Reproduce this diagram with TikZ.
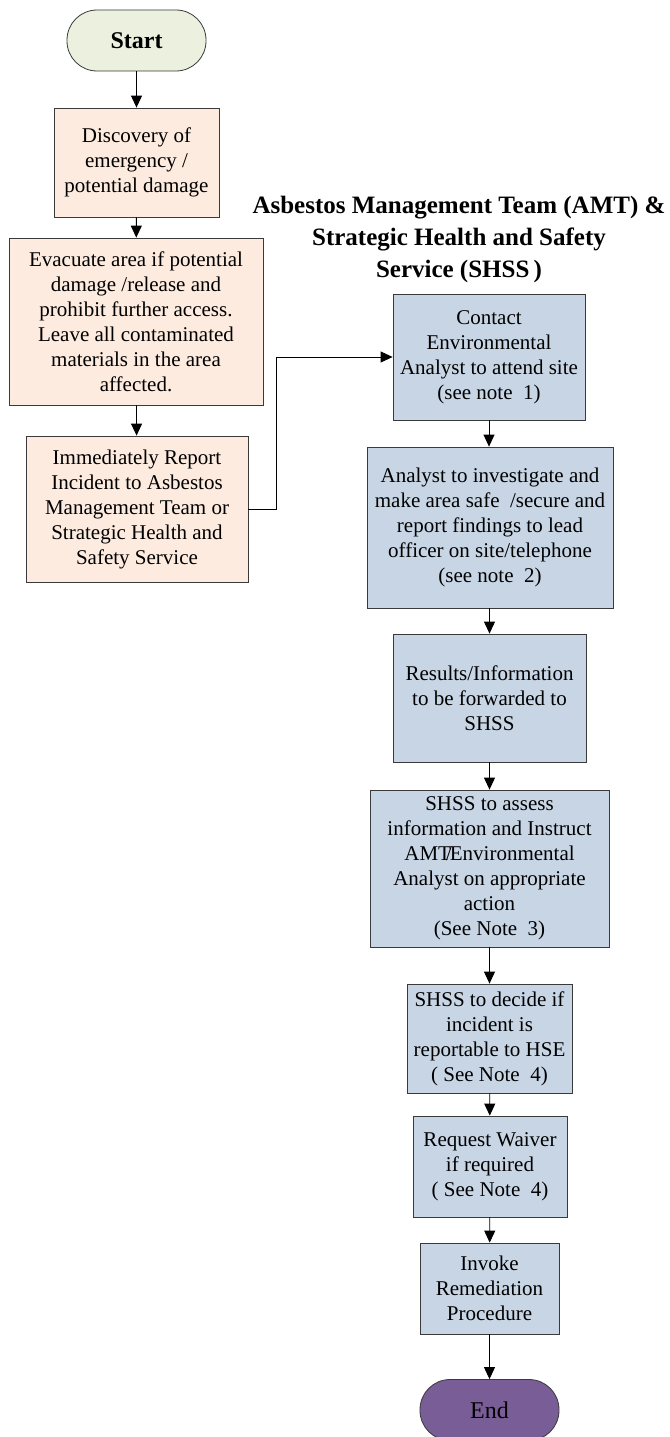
\documentclass[tikz,border=0pt]{standalone}
\usepackage{fontspec}
\setmainfont{Liberation Serif}
\usetikzlibrary{arrows.meta}

\definecolor{startgreen}{HTML}{EBF1DE}
\definecolor{peach}{HTML}{FDEBDF}
\definecolor{paleblue}{HTML}{C7D5E5}
\definecolor{endpurple}{HTML}{785D96}
\definecolor{edge}{HTML}{3A3A3A}

\tikzset{
  box/.style={draw=edge, line width=0.8pt, align=center, inner sep=0pt,
    font=\fontsize{21}{25}\selectfont},
  leftbox/.style={box, fill=peach},
  rightbox/.style={box, fill=paleblue},
  term/.style={box, rounded corners=30pt, minimum width=139pt, minimum height=61pt},
  arr/.style={-{Triangle[length=12pt,width=11pt]}, line width=0.9pt}
}

\begin{document}
\begin{tikzpicture}[x=1pt, y=-1pt]
        \useasboundingbox (0,0) rectangle (669,1437);
        % linke Spalte
        \node (start) at (136.5,40.5) [term, fill=startgreen,
          font=\bfseries\fontsize{24}{28}\selectfont] {Start};
        \node (disc) at (136.5,162.5) [leftbox, minimum width=165pt, minimum height=109pt]
          {Discovery of\\emergency /\\potential damage};
        \node (evac) at (136,321.5) [leftbox, minimum width=254pt, minimum height=167pt]
          {Evacuate area if potential\\damage /release and\\prohibit further access.\\Leave all contaminated\\materials in the area\\affected.};
        \node (report) at (137,509) [leftbox, minimum width=222pt, minimum height=146pt]
          {Immediately Report\\Incident to Asbestos\\Management Team or\\Strategic Health and\\Safety Service};
        % Titel
        \node (title) at (459,239) [align=center, font=\bfseries\fontsize{25}{32}\selectfont]
          {Asbestos Management Team (AMT) \&\\Strategic Health and Safety\\Service (SHSS\,)};
        % rechte Spalte
        \node (contact) at (489,357) [rightbox, minimum width=192pt, minimum height=126pt]
          {Contact\\Environmental\\Analyst to attend site\\(see note~~1)};
        \node (analyst) at (490,527.5) [rightbox, minimum width=246pt, minimum height=161pt]
          {Analyst to investigate and\\make area safe~~/secure and\\report findings to lead\\officer on site/telephone\\(see note~~2)};
        \node (results) at (489.5,698) [rightbox, minimum width=193pt, minimum height=128pt]
          {Results/Information\\to be forwarded to\\SHSS};
        \node (assess) at (489.5,868.5) [rightbox, minimum width=239pt, minimum height=157pt]
          {SHSS to assess\\information and Instruct\\AMT\kern-5pt/\kern-2pt Environmental\\Analyst on appropriate\\action\\(See Note~~3)};
        \node (decide) at (489.5,1038.5) [rightbox, minimum width=165pt, minimum height=109pt]
          {SHSS to decide if\\incident is\\reportable to HSE\\( See Note~~4)};
        \node (waiver) at (490,1166.5) [rightbox, minimum width=154pt, minimum height=101pt]
          {Request Waiver\\if required\\( See Note~~4)};
        \node (invoke) at (489.5,1288.5) [rightbox, minimum width=139pt, minimum height=91pt]
          {Invoke\\Remediation\\Procedure};
        \node (end) at (489.5,1410) [term, fill=endpurple,
          font=\fontsize{24}{28}\selectfont] {End};
        % Pfeile
        \draw[arr] (start) -- (disc);
        \draw[arr] (disc) -- (evac);
        \draw[arr] (evac) -- (report);
        \draw[arr] (report.east) -- ++(28,0) |- (contact.west);
        \draw[arr] (contact) -- (contact |- analyst.north);
        \draw[arr] (analyst.south -| results) -- (results);
        \draw[arr] (results) -- (assess);
        \draw[arr] (assess) -- (decide);
        \draw[arr] (decide) -- (waiver);
        \draw[arr] (waiver) -- (invoke);
        \draw[arr] (invoke) -- (end);
      \end{tikzpicture}
\end{document}
